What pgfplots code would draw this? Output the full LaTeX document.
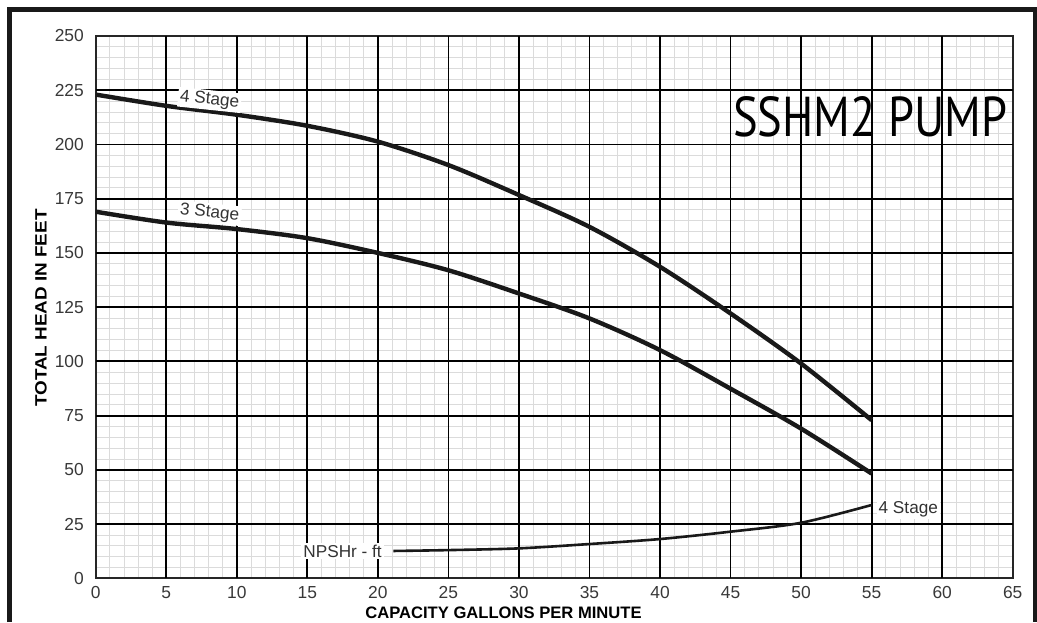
\documentclass[border=0pt]{standalone}
\usepackage{fontspec}
\setmainfont{Liberation Sans}
\newfontfamily\titlefont{PT Sans}
\usepackage{graphicx}
\usepackage{pgfplots}
\pgfplotsset{compat=1.18}

\pgfplotstableread{
x y
0 223
5 217.8
10 213.7
15 208.6
20 201.3
25 190.5
30 176.7
35 162
40 143.6
45 122.1
50 99
55 72.9
}\fourstage

\pgfplotstableread{
x y
0 169
5 164
10 161
15 156.8
20 150
25 142
30 131.3
35 119.8
40 105.2
45 87.4
50 69
55 48.3
}\threestage

\pgfplotstableread{
x y
21.1 12.6
25 13
30 13.8
35 15.8
40 18.1
45 21.5
50 25.6
55 33.8
}\npshr

\begin{document}
\begin{tikzpicture}[x=1pt,y=1pt]
\useasboundingbox (0,0) rectangle (518.5,311);
\begin{axis}[
  at={(47.85pt,21.85pt)}, anchor=south west,
  scale only axis, width=458.5pt, height=271.15pt,
  xmin=0, xmax=65, ymin=0, ymax=250,
  xtick={0,5,...,65}, ytick={0,25,...,250},
  minor x tick num=4, minor y tick num=4,
  grid=minor,
  minor grid style={black!14, line width=0.35pt},
  extra x ticks={5,10,...,60}, extra y ticks={25,50,...,225},
  extra x tick labels={}, extra y tick labels={},
  extra tick style={grid=major, major grid style={black, line width=0.9pt}},
  axis line style={black!85, line width=1pt},
  tick style={draw=none},
  /pgf/number format/assume math mode=true,
  ticklabel style={font=\fontsize{8.7}{10}\selectfont, text=black!78},
  yticklabel style={xshift=-2.4pt},
  xticklabel style={yshift=-0.6pt},
  xlabel={CAPACITY GALLONS PER MINUTE},
  xlabel style={at={(rel axis cs:0.4447,-0.0738)}, anchor=base,
    font=\bfseries\fontsize{8.3}{10}\selectfont},
  ylabel={\scalebox{1.15}[1]{TOTAL HEAD IN FEET}},
  ylabel style={at={(rel axis cs:-0.0534,0.4984)}, anchor=base, rotate=0,
    font=\bfseries\fontsize{8.2}{10}\selectfont},
  clip=false,
]
\addplot[black!90, line width=2.2pt, smooth] table {\fourstage};
\addplot[black!90, line width=2.2pt, smooth] table {\threestage};
\addplot[black!90, line width=1.3pt, smooth] table {\npshr};

\node[fill=white, inner sep=1pt, rotate=-6, text=black!80,
  font=\fontsize{8.6}{10}\selectfont] at (axis cs:8.07,220.5) {4 Stage};
\node[fill=white, inner sep=1pt, rotate=-6, text=black!80,
  font=\fontsize{8.6}{10}\selectfont] at (axis cs:8.07,168.4) {3 Stage};
\node[fill=white, inner sep=1pt, text=black!80,
  font=\fontsize{8.6}{10}\selectfont] at (axis cs:17.5,12.5) {NPSHr - ft};
\node[fill=white, inner sep=1pt, text=black!80,
  font=\fontsize{8.6}{10}\selectfont] at (axis cs:57.6,31.8) {4 Stage};
\node[inner sep=0pt] at (axis cs:54.9,212.6)
  {\resizebox{137pt}{20pt}{\titlefont SSHM2 PUMP}};
\end{axis}
\draw[black!90, line width=2.5pt] (4.75,0) -- (4.75,306.25) -- (517.5,306.25) -- (517.5,0);
\end{tikzpicture}
\end{document}
